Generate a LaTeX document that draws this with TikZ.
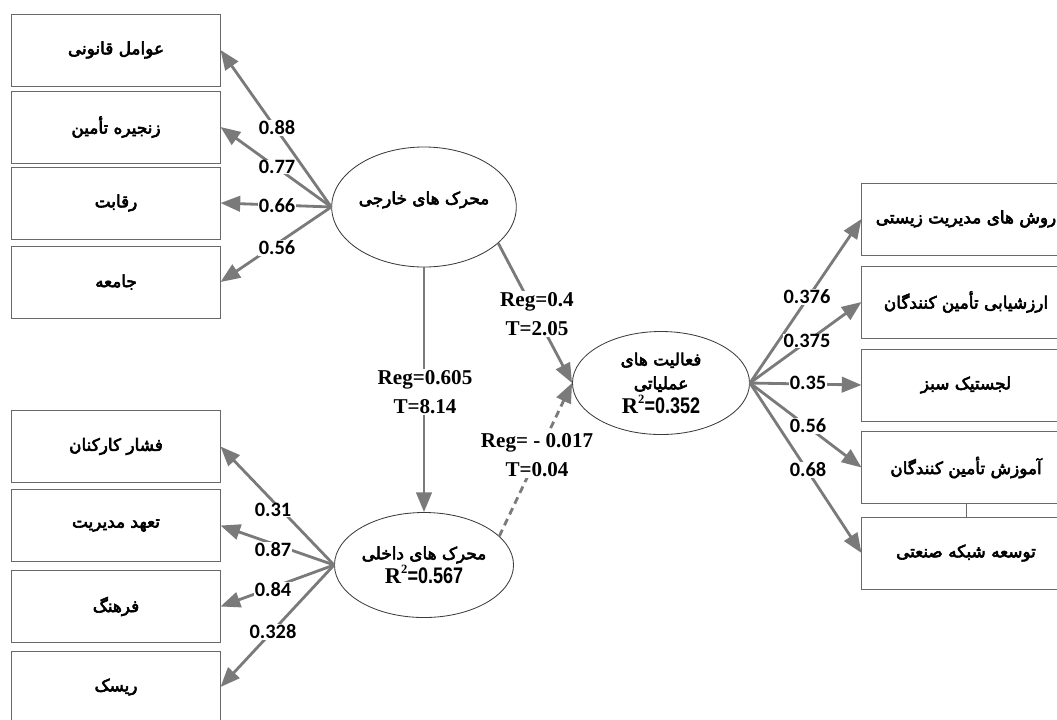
\documentclass[tikz,border=0pt]{standalone}
\usepackage{fontspec}
\setmainfont{Liberation Serif}
\newfontfamily\fafont[Script=Arabic,FakeBold=3.5]{DejaVu Sans}
\newfontfamily\numfont{Carlito}
\newfontfamily\narrowfont[FakeStretch=0.8]{Liberation Sans}
\TeXXeTstate=1
\usetikzlibrary{shapes.geometric,arrows.meta}
\definecolor{linegray}{RGB}{122,122,122}
\definecolor{boxgray}{RGB}{105,105,105}
\definecolor{ringgray}{RGB}{60,60,60}
\newcommand{\fatext}[1]{{\fafont\beginR #1\endR}}
\newcommand{\rsq}[1]{{\fontsize{16}{18}\selectfont\bfseries R\raisebox{0.42em}{\fontsize{9}{9}\selectfont 2}\narrowfont=#1}}
\begin{document}
\begin{tikzpicture}[x=0.025cm,y=-0.025cm,
    box/.style={draw=boxgray,line width=0.7pt,minimum width=5.2cm,minimum height=1.8cm,inner sep=0pt,font=\fontsize{12}{13}\selectfont},
    latent/.style={ellipse,draw=ringgray,line width=0.6pt,inner sep=0pt,align=center,font=\fontsize{12}{17}\selectfont},
    load/.style={fill=white,inner sep=0.5pt,font=\numfont\bfseries\fontsize{14.5}{16}\selectfont},
    coef/.style={fill=white,inner sep=1pt,align=center,font=\bfseries\fontsize{15}{21}\selectfont},
    link/.style={draw=linegray,line width=2pt,-{Triangle[length=14pt,width=11pt]}}]
  \useasboundingbox (0,0) rectangle (1057,719);
  \clip (0,0) rectangle (1057,719);
  \draw
    (116,50) node[box] (1){\fatext{عوامل قانونی}}
    (116,127) node[box] (2){\fatext{زنجیره تأمین}}
    (116,203) node[box] (3){\fatext{رقابت}}
    (116,282) node[box] (4){\fatext{جامعه}}
    (116,446.5) node[box] (5){\fatext{فشار کارکنان}}
    (116,525.5) node[box] (6){\fatext{تعهد مدیریت}}
    (116,606.5) node[box] (7){\fatext{فرهنگ}}
    (116,687) node[box] (8){\fatext{ریسک}}
    (966,219) node[box] (9){\fatext{روش های مدیریت زیستی}}
    (966,302) node[box] (10){\fatext{ارزشیابی تأمین کنندگان}}
    (966,385) node[box] (11){\fatext{لجستیک سبز}}
    (966,467.5) node[box] (12){\fatext{آموزش تأمین کنندگان}}
    (966,553) node[box] (13){\fatext{توسعه شبکه صنعتی}}
    (424,207) node[latent,minimum width=4.475cm,minimum height=3cm] (ext){\fatext{محرک های خارجی}\\[-4pt]}
    (424,565) node[latent,minimum width=4.475cm,minimum height=2.625cm] (int){\fatext{محرک های داخلی}\\\rsq{0.567}}
    (661,383) node[latent,minimum width=4.425cm,minimum height=2.575cm] (ops){\fatext{فعالیت های}\\\fatext{عملیاتی}\\\rsq{0.352}};
  \draw[boxgray,line width=0.7pt] (12.south) to (13.north);
  \begin{scope}[link]
    \draw (ext.west) to (1.east);
    \draw (ext.west) to (2.east);
    \draw (ext.west) to (3.east);
    \draw (ext.west) to (4.east);
    \draw (int.west) to (5.east);
    \draw (int.west) to (6.east);
    \draw (int.west) to (7.east);
    \draw (int.west) to (8.east);
    \draw (ops.east) to (9.west);
    \draw (ops.east) to (10.west);
    \draw (ops.east) to (11.west);
    \draw (ops.east) to (12.west);
    \draw (ops.east) to (13.west);
    \draw (ext.south) to (int.north);
    \draw (ext.-26) to (ops.west);
    \draw[dash pattern=on 5pt off 3.5pt] (int.21) to (ops.west);
  \end{scope}
  \draw
    (277,128) node[load] (l1){0.88}
    (277,167) node[load] (l2){0.77}
    (277,206) node[load] (l3){0.66}
    (277,248) node[load] (l4){0.56}
    (273,510) node[load] (l5){0.31}
    (273,550) node[load] (l6){0.87}
    (273,590) node[load] (l7){0.84}
    (273,632) node[load] (l8){0.328}
    (807,297) node[load] (l9){0.376}
    (807,341) node[load] (l10){0.375}
    (808,383) node[load] (l11){0.35}
    (808,426) node[load] (l12){0.56}
    (808,470) node[load] (l13){0.68}
    (425,392) node[coef] (r1){Reg=0.605\\T=8.14}
    (537,314) node[coef] (r2){Reg=0.4\\T=2.05}
    (537,455) node[coef] (r3){Reg= - 0.017\\T=0.04};
\end{tikzpicture}
\end{document}
